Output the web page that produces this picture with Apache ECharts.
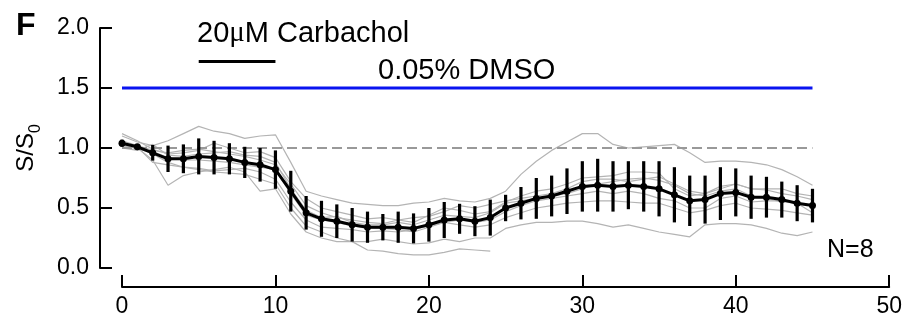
<!DOCTYPE html>
<html>
<head>
<meta charset="utf-8">
<script src="https://cdn.jsdelivr.net/npm/echarts@6/dist/echarts.min.js"></script>
<style>
  html, body { margin: 0; padding: 0; background: #fff; }
  #chart { width: 905px; height: 320px; }
</style>
</head>
<body>
<div id="chart"></div>
<script>
// Time points (min)
const timePoints = [0,1,2,3,4,5,6,7,8,9,10,11,12,13,14,15,16,17,18,19,20,21,22,23,24,25,26,27,28,29,30,31,32,33,34,35,36,37,38,39,40,41,42,43,44,45];

// Mean normalised signal S/S0
const meanValues = [1.04,1.01,0.96,0.91,0.91,0.93,0.92,0.91,0.88,0.86,0.82,0.64,0.46,0.41,0.39,0.36,0.34,0.34,0.34,0.33,0.36,0.40,0.41,0.39,0.42,0.50,0.54,0.58,0.60,0.64,0.68,0.69,0.68,0.69,0.68,0.66,0.61,0.56,0.57,0.62,0.63,0.59,0.59,0.57,0.54,0.52];

// Error (half length of each bar)
const errValues = [0.03,0.02,0.065,0.11,0.12,0.15,0.14,0.13,0.13,0.14,0.16,0.17,0.14,0.15,0.14,0.14,0.13,0.11,0.13,0.125,0.14,0.15,0.125,0.125,0.15,0.11,0.135,0.17,0.17,0.19,0.21,0.22,0.21,0.20,0.21,0.23,0.23,0.21,0.20,0.22,0.20,0.18,0.17,0.15,0.15,0.14];

// Individual cell traces (N=8)
const cell1 = [1.10,1.05,1.02,1.06,1.12,1.18,1.14,1.12,1.08,1.10,1.11,0.88,0.64,0.60,0.57,0.54,0.53,0.52,0.52,0.54,0.55,0.58,0.56,0.55,0.58,0.64,0.78,0.89,0.98,1.05,1.12,1.12,1.03,1.00,1.01,1.02,1.03,0.96,0.88,0.89,0.89,0.88,0.86,0.82,0.76,0.69];
const cell2 = [1.04,1.00,0.90,0.69,0.77,0.80,0.82,0.84,0.80,0.64,0.66,0.45,0.30,0.25,0.22,0.22,0.15,0.14,0.12,0.11,0.11,0.13,0.16,0.15,0.14];
const cell3 = [1.02,1.00,0.95,0.88,0.84,0.82,0.80,0.79,0.78,0.74,0.70,0.50,0.35,0.30,0.25,0.22,0.22,0.24,0.22,0.20,0.21,0.24,0.22,0.25,0.25,0.33,0.36,0.38,0.38,0.39,0.39,0.37,0.34,0.36,0.33,0.30,0.28,0.26,0.36,0.37,0.37,0.36,0.33,0.29,0.27,0.30];
const cell4 = [1.06,1.02,0.98,0.96,0.98,0.99,0.97,0.95,0.93,0.90,0.86,0.70,0.52,0.46,0.42,0.40,0.38,0.37,0.40,0.38,0.44,0.50,0.48,0.45,0.47,0.55,0.60,0.64,0.66,0.70,0.75,0.76,0.77,0.80,0.80,0.79,0.66,0.60,0.62,0.68,0.70,0.66,0.65,0.62,0.60,0.57];
const cell5 = [1.03,0.99,0.97,0.92,0.90,0.90,0.89,0.88,0.86,0.84,0.82,0.62,0.44,0.40,0.38,0.35,0.33,0.33,0.32,0.30,0.34,0.38,0.40,0.38,0.40,0.47,0.52,0.56,0.58,0.60,0.62,0.64,0.62,0.64,0.62,0.58,0.56,0.50,0.50,0.58,0.60,0.55,0.56,0.56,0.54,0.52];
const cell6 = [1.00,0.98,1.03,0.94,0.93,0.95,0.96,0.97,0.94,0.93,0.88,0.66,0.48,0.42,0.43,0.38,0.36,0.36,0.38,0.36,0.40,0.44,0.43,0.42,0.46,0.54,0.56,0.58,0.60,0.62,0.66,0.70,0.72,0.74,0.75,0.73,0.69,0.62,0.60,0.64,0.66,0.60,0.58,0.55,0.54,0.46];
const cell7 = [1.12,1.06,0.99,0.95,0.96,0.98,1.04,1.00,0.96,0.97,0.92,0.72,0.58,0.50,0.47,0.44,0.41,0.42,0.40,0.42,0.43,0.47,0.52,0.50,0.53,0.56,0.58,0.60,0.62,0.66,0.72,0.74,0.74,0.72,0.74,0.76,0.70,0.64,0.62,0.66,0.70,0.66,0.66,0.66,0.62,0.60];
const cell8 = [1.00,1.01,0.88,0.86,0.84,0.83,0.81,0.82,0.83,0.80,0.74,0.55,0.40,0.34,0.33,0.32,0.30,0.31,0.30,0.32,0.35,0.38,0.36,0.34,0.36,0.42,0.46,0.50,0.52,0.54,0.55,0.56,0.56,0.55,0.54,0.54,0.50,0.46,0.48,0.52,0.54,0.50,0.49,0.48,0.46,0.44];
const cellTraces = [cell1, cell2, cell3, cell4, cell5, cell6, cell7, cell8];

// Axis ticks
const xTicks = { min: 0, max: 50, step: 10 };
const yTicks = { min: 0, max: 2, step: 0.5 };

// Reference levels and drug application window
const baselineLevel = 1.0;
const dmsoLevel = 1.5;
const dmsoSpan = [0, 45];
const carbacholSpan = [5, 10];
const carbacholBarLevel = 1.72;

const FONT = 'Liberation Sans, Arial, Helvetica, sans-serif';

const pairs = (xs, ys) => ys.map((v, i) => [xs[i], v]);

const traceSeries = cellTraces.map((tr) => ({
  type: 'line',
  data: pairs(timePoints, tr),
  symbol: 'none',
  lineStyle: { color: '#b4b4b4', width: 1.2 },
  silent: true,
  z: 1
}));

const errData = timePoints.map((t, i) => [t, meanValues[i] - errValues[i], meanValues[i] + errValues[i]]);

const chart = echarts.init(document.getElementById('chart'), null, { renderer: 'canvas' });

chart.setOption({
  animation: false,
  backgroundColor: '#fff',
  grid: { left: 122, right: 15.5, top: 28, bottom: 52, containLabel: false },
  xAxis: {
    type: 'value',
    min: xTicks.min, max: xTicks.max, interval: xTicks.step,
    offset: 19,
    axisLine: { onZero: false, lineStyle: { color: '#000', width: 2 } },
    axisTick: { inside: true, length: 12, lineStyle: { color: '#000', width: 2 } },
    axisLabel: { color: '#000', fontSize: 23, fontFamily: FONT, margin: 8 },
    splitLine: { show: false }
  },
  yAxis: {
    type: 'value',
    min: yTicks.min, max: yTicks.max, interval: yTicks.step,
    offset: 22,
    axisLine: { onZero: false, lineStyle: { color: '#000', width: 2 } },
    axisTick: { inside: true, length: 12, lineStyle: { color: '#000', width: 2 } },
    axisLabel: { color: '#000', fontSize: 23, fontFamily: FONT, margin: 11,
                 formatter: (v) => v.toFixed(1) },
    splitLine: { show: false },
    name: '{a|S/S}{b|0}',
    nameLocation: 'middle',
    nameRotate: 90,
    nameGap: 62,
    nameTextStyle: {
      rich: {
        a: { fontSize: 24, fontFamily: FONT, color: '#000' },
        b: { fontSize: 16, fontFamily: FONT, color: '#000', verticalAlign: 'bottom', padding: [0, 0, -6, 0] }
      }
    }
  },
  series: [
    ...traceSeries,
    {
      type: 'line',
      data: [[dmsoSpan[0], baselineLevel], [dmsoSpan[1], baselineLevel]],
      symbol: 'none',
      lineStyle: { color: '#999', width: 2, type: [10, 5] },
      z: 2
    },
    {
      type: 'line',
      data: [[dmsoSpan[0], dmsoLevel], [dmsoSpan[1], dmsoLevel]],
      symbol: 'none',
      lineStyle: { color: '#0a14f0', width: 3 },
      z: 2
    },
    {
      type: 'line',
      data: [[carbacholSpan[0], carbacholBarLevel], [carbacholSpan[1], carbacholBarLevel]],
      symbol: 'none',
      lineStyle: { color: '#000', width: 3 },
      z: 2
    },
    {
      type: 'custom',
      data: errData,
      encode: { x: 0, y: [1, 2] },
      renderItem: (params, api) => {
        const x = api.value(0);
        const p1 = api.coord([x, api.value(1)]);
        const p2 = api.coord([x, api.value(2)]);
        return {
          type: 'line',
          shape: { x1: p1[0], y1: p1[1], x2: p2[0], y2: p2[1] },
          style: { stroke: '#000', lineWidth: 3.2 }
        };
      },
      z: 3
    },
    {
      type: 'line',
      data: pairs(timePoints, meanValues),
      symbol: 'circle',
      symbolSize: 7,
      itemStyle: { color: '#000' },
      lineStyle: { color: '#000', width: 3 },
      z: 4
    }
  ],
  graphic: [
    { type: 'text', left: 16, top: 10,
      style: { text: 'F', font: 'bold 32px ' + FONT, fill: '#000' } },
    { type: 'text', left: 197, top: 19,
      style: { text: '20{mu|μ}M Carbachol', font: '29px ' + FONT, fill: '#000',
               rich: { mu: { fontSize: 29, fontFamily: 'Liberation Serif, serif', fill: '#000' } } } },
    { type: 'text', left: 378, top: 56,
      style: { text: '0.05% DMSO', font: '29px ' + FONT, fill: '#000' } },
    { type: 'text', left: 827, top: 238,
      style: { text: 'N=8', font: '25px ' + FONT, fill: '#000' } }
  ]
});
</script>
</body>
</html>
